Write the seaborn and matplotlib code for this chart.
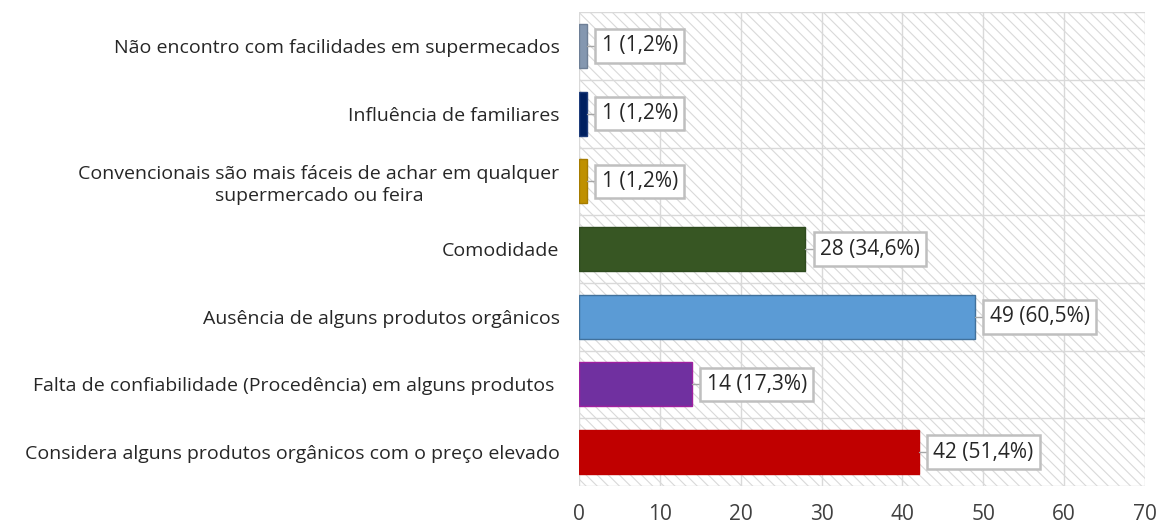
import matplotlib
matplotlib.use("Agg")
import matplotlib.pyplot as plt
import seaborn as sns
import pandas as pd
from matplotlib.patches import Rectangle

categorias = [
    "Não encontro com facilidades em supermecados",
    "Influência de familiares",
    "Convencionais são mais fáceis de achar em qualquer\nsupermercado ou feira",
    "Comodidade",
    "Ausência de alguns produtos orgânicos",
    "Falta de confiabilidade (Procedência) em alguns produtos ",
    "Considera alguns produtos orgânicos com o preço elevado",
]
respostas = [1, 1, 1, 28, 49, 14, 42]
percentuais = ["1,2%", "1,2%", "1,2%", "34,6%", "60,5%", "17,3%", "51,4%"]
cores = ["#8497B0", "#002060", "#BF9000", "#375623", "#5B9BD5", "#7030A0", "#C00000"]
bordas = ["#6E7F96", "#1F3D7A", "#A67C00", "#2E4A1E", "#41719C", "#A020A0", "#C00000"]
ticks_x = [0, 10, 20, 30, 40, 50, 60, 70]

sns.set_theme(style="white")
plt.rcParams["font.family"] = ["Open Sans", "DejaVu Sans"]
plt.rcParams["hatch.linewidth"] = 0.8

df = pd.DataFrame({"motivo": categorias, "n": respostas})

fig = plt.figure(figsize=(11.61, 5.27), dpi=100)
ax = fig.add_axes([0.4987, 0.0778, 0.4875, 0.8992])

# hatched plot-area background
ax.add_patch(Rectangle((0, 0), 1, 1, transform=ax.transAxes, facecolor="white",
                       edgecolor="#D9D9D9", hatch="\\\\\\", linewidth=0, zorder=0))

sns.barplot(data=df, y="motivo", x="n", hue="motivo", palette=cores, saturation=1,
            orient="h", width=0.65, legend=False, ax=ax, zorder=3)

barras = ax.patches[-len(cores):]
for patch, borda in zip(barras, bordas):
    patch.set_edgecolor(borda)
    patch.set_linewidth(1.0)

ax.set_xlim(0, 70)
ax.set_ylim(len(categorias) - 0.5, -0.5)
ax.set_xticks(ticks_x)
ax.set_xticklabels([str(t) for t in ticks_x], fontsize=15, color="#404040")
ax.set_yticks(range(len(categorias)))
ax.set_yticklabels(categorias, fontsize=14, color="#262626", ha="right",
                   multialignment="center", linespacing=1.25)
ax.tick_params(axis="y", length=0, pad=14)
ax.tick_params(axis="x", length=0, pad=13)
ax.set_xlabel("")
ax.set_ylabel("")

# grid: vertical at ticks, horizontal between categories
for t in ticks_x:
    ax.axvline(t, color="#D9D9D9", linewidth=1.0, zorder=1)
for b in range(len(categorias) + 1):
    ax.axhline(b - 0.5, color="#D9D9D9", linewidth=1.0, zorder=1)
for s in ax.spines.values():
    s.set_visible(False)

# data labels with leader lines
for i, (v, p) in enumerate(zip(respostas, percentuais)):
    x_txt = v + 1.8
    ax.plot([v, x_txt], [i, i], color="#A6A6A6", linewidth=1.0, zorder=4)
    ax.text(x_txt, i, f"{v} ({p})", va="center", ha="left", fontsize=15,
            color="#262626", zorder=5,
            bbox=dict(boxstyle="square,pad=0.3", facecolor="white",
                      edgecolor="#BFBFBF", linewidth=1.8))

fig.savefig("out.png", dpi=100)
